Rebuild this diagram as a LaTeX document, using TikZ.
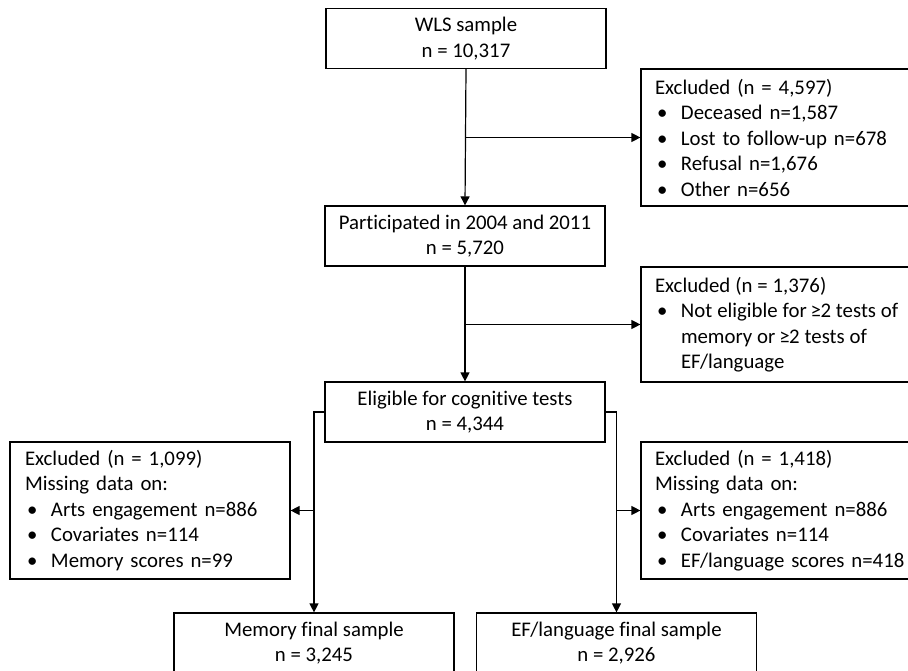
\documentclass[tikz,border=0pt]{standalone}
\usepackage{fontspec}
\setmainfont{Carlito}[Ligatures=NoCommon]
\usetikzlibrary{arrows.meta}
\newcommand\bitem[1]{\makebox[1.25em][l]{\hspace{0.1em}•}#1}
\newcommand\bcont{\hspace*{1.25em}}
\newcommand\mygeq{\kern-1pt≥\kern-0.5pt}
\newcommand\tightsp{\spaceskip=4.9pt\relax}
\begin{document}
\begin{tikzpicture}[x=1pt,y=-1pt,
  box/.style={draw=black,line width=1.2pt,rectangle,inner sep=0pt,align=center,
    font=\fontsize{20.8}{25.5}\selectfont},
  cbox/.style={box,minimum width=280pt,minimum height=60pt},
  lbox/.style={box,align=left,inner xsep=14pt,text width=280pt,minimum height=137pt},
  conn/.style={line width=1.2pt},
  arr/.style={conn,-{Triangle[length=9pt,width=9pt]}}]
\useasboundingbox (0,0) rectangle (908,671);
\clip (0,0) rectangle (908,671);
\node[cbox] (wls) at (466,38.5) {WLS sample\\n = 10,317};
\node[lbox] (exc1) at (795,137.5) {Excluded (n = 4,597)\\\bitem{Deceased n=1,587}\\\bitem{Lost to follow-up n=678}\\\bitem{Refusal n=1,676}\\\bitem{Other n=656}};
\node[cbox] (part) at (465,236) {Participated in 2004 and 2011\\n = 5,720};
\node[lbox,minimum height=115pt] (exc2) at (795,324.5) {\tightsp Excluded (n = 1,376)\\\bitem{Not eligible for \mygeq 2 tests of}\\\bcont memory or \mygeq 2 tests of\\\bcont EF/language};
\node[cbox] (elig) at (465,412) {Eligible for cognitive tests\\n = 4,344};
\node[box,align=left,inner xsep=15pt,text width=250pt,minimum height=137pt] (excL) at (150,510.5) {Excluded (n = 1,099)\\Missing data on:\\\bitem{Arts engagement n=886}\\\bitem{Covariates n=114}\\\bitem{Memory scores n=99}};
\node[lbox] (excR) at (795,510.5) {Excluded (n = 1,418)\\Missing data on:\\\bitem{Arts engagement n=886}\\\bitem{Covariates n=114}\\\bitem{EF/language scores n=418}};
\node[cbox] (mem) at (314,643) {Memory final sample\\n = 3,245};
\node[cbox] (ef) at (616.5,643) {EF/language final sample\\n = 2,926};
\coordinate (b1) at (wls.south |- exc1.west);
\coordinate (b2) at (part.south |- exc2.west);
\coordinate (bl) at (mem.north |- excL.east);
\coordinate (br) at (ef.north |- excR.west);
\draw[arr] (wls.south) -- (part.north);
\draw[arr] (b1) -- (exc1.west);
\draw[arr] (part.south) -- (elig.north);
\draw[arr] (b2) -- (exc2.west);
\draw[arr] (elig.west) -| (mem.north);
\draw[arr] (bl) -- (excL.east);
\draw[arr] (elig.east) -| (ef.north);
\draw[arr] (br) -- (excR.west);
\end{tikzpicture}
\end{document}
